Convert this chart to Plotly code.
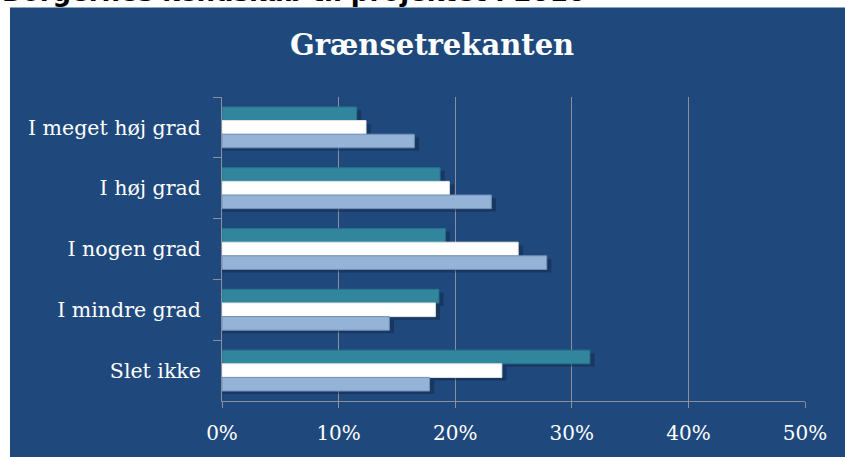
import plotly.graph_objects as go

categories = ["I meget høj grad", "I høj grad", "I nogen grad", "I mindre grad", "Slet ikke"]
series_teal = [0.1155, 0.187, 0.1915, 0.186, 0.3155]
series_white = [0.1235, 0.195, 0.254, 0.183, 0.240]
series_light = [0.165, 0.231, 0.2785, 0.1435, 0.178]
x_ticks = [0, 0.1, 0.2, 0.3, 0.4, 0.5]
x_ticklabels = ["0%", "10%", "20%", "30%", "40%", "50%"]

BG = "#1F497D"
GRID = "#8a8f99"
SERIF = "DejaVu Serif"

W = 0.224
series = [
    (series_teal, "#31859C", "#2a7489", -1.5 * W),
    (series_white, "#FFFFFF", "#e6e6e6", -0.5 * W),
    (series_light, "#95B3D7", "#6f8fb8", 0.5 * W),
]

fig = go.Figure()
# soft drop shadows
for vals, col, lcol, off in series:
    fig.add_trace(go.Bar(
        y=categories, x=[v + 0.004 for v in vals], orientation="h",
        width=W, offset=off + 0.05, base=0,
        marker=dict(color="rgba(8,22,45,0.32)", line=dict(width=0)),
        hoverinfo="skip", showlegend=False,
    ))
for vals, col, lcol, off in series:
    fig.add_trace(go.Bar(
        y=categories, x=vals, orientation="h",
        width=W, offset=off,
        marker=dict(color=col, line=dict(color=lcol, width=1)),
        showlegend=False,
    ))

def py(p):
    return (403 - p) / 306.0

fig.update_layout(
    width=845, height=457,
    margin=dict(l=222, r=40, t=97, b=54),
    paper_bgcolor=BG, plot_bgcolor=BG,
    barmode="overlay",
    showlegend=False,
    xaxis=dict(
        range=[0, 0.5], tickvals=x_ticks, ticktext=x_ticklabels,
        showgrid=True, gridcolor=GRID, gridwidth=1,
        zeroline=False, showline=True, linecolor=GRID, linewidth=1,
        ticks="outside", ticklen=6, tickcolor=GRID,
        ticklabelstandoff=8,
        tickfont=dict(family=SERIF, size=20, color="white"),
        fixedrange=True,
    ),
    yaxis=dict(
        categoryorder="array", categoryarray=categories,
        autorange="reversed",
        showgrid=False, zeroline=False,
        showline=True, linecolor=GRID, linewidth=1,
        ticks="outside", tickson="boundaries", ticklen=8, tickcolor=GRID,
        ticklabelstandoff=16,
        tickfont=dict(family=SERIF, size=20.5, color="white"),
        fixedrange=True,
    ),
    shapes=[
        dict(type="rect", xref="paper", yref="paper", layer="below",
             x0=-0.5, x1=(10 - 222) / 583.0, y0=-0.5, y1=1.5,
             fillcolor="white", line=dict(width=0)),
        dict(type="rect", xref="paper", yref="paper", layer="below",
             x0=-0.5, x1=1.5, y0=py(7), y1=1.5,
             fillcolor="white", line=dict(width=0)),
    ],
    annotations=[
        dict(text="<b>Grænsetrekanten</b>", xref="paper", yref="paper",
             x=(432 - 222) / 583.0, y=py(45), xanchor="center", yanchor="middle",
             showarrow=False, font=dict(family=SERIF, size=29, color="white")),
        dict(text="<b>Borgernes kendskab til projektet i 2010</b>", xref="paper", yref="paper",
             x=(0 - 222) / 583.0, y=py(8), xanchor="left", yanchor="bottom",
             showarrow=False, font=dict(family="DejaVu Sans", size=26, color="black")),
    ],
)

fig.write_html(
    "out.html",
    config={"displayModeBar": False},
    post_script="document.body.style.margin='0';document.body.style.overflow='hidden';",
)
